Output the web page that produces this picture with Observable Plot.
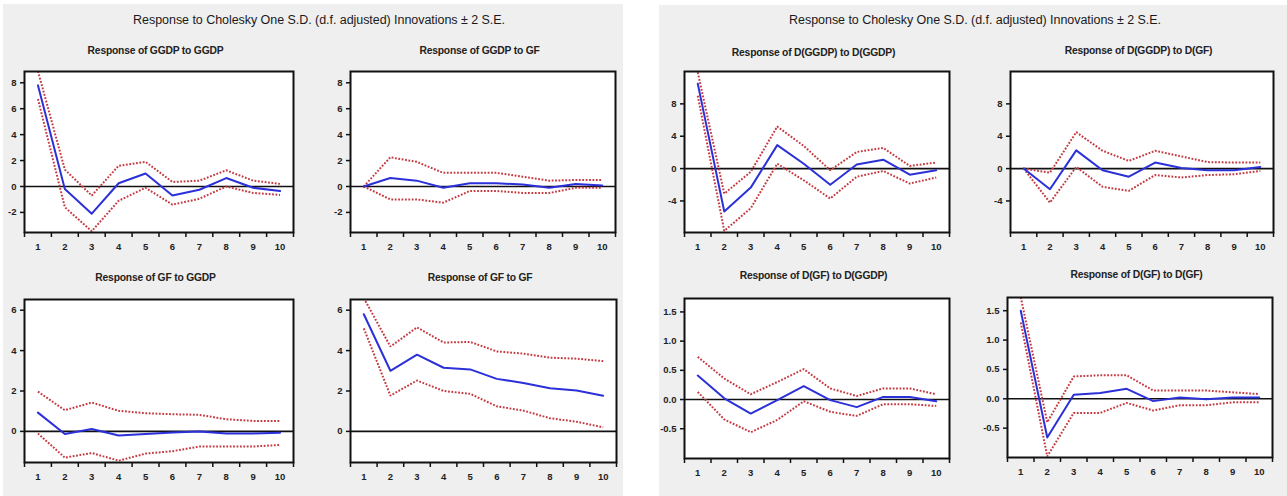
<!DOCTYPE html>
<html>
<head>
<meta charset="utf-8">
<script src="https://cdn.jsdelivr.net/npm/d3@7"></script>
<script src="https://cdn.jsdelivr.net/npm/@observablehq/plot@0.6"></script>
<style>
  html, body { margin: 0; padding: 0; background: #fff; }
  body { width: 1287px; height: 496px; position: relative; overflow: hidden; font-family: "Liberation Sans", Arial, sans-serif; }
  .fig { position: absolute; background: #efefef; overflow: hidden; }
  .txt { position: absolute; transform: translate(-50%, -50%); white-space: nowrap; color: #1a1a1a; }
  .main { font-size: 12.5px; letter-spacing: -0.05px; }
  .sub { font-size: 10.3px; font-weight: bold; letter-spacing: -0.2px; color: #222; }
  .pl { position: absolute; }
</style>
</head>
<body>
<div id="figL" class="fig" style="left:3px; top:4px; width:620px; height:492px;"></div>
<div id="figR" class="fig" style="left:659px; top:5px; width:628px; height:491px;"></div>
<script>
// ---------- data ----------
const periods = [1, 2, 3, 4, 5, 6, 7, 8, 9, 10];
const periodLabels = ["1", "2", "3", "4", "5", "6", "7", "8", "9", "10"];

const mainTitle = "Response to Cholesky One S.D. (d.f. adjusted) Innovations \u00b1 2 S.E.";

// Left figure: levels
const ggdpToGgdp      = [7.8, -0.2, -2.1, 0.25, 1.0, -0.7, -0.25, 0.65, -0.1, -0.35];
const ggdpToGgdpUpper = [8.9, 1.3, -0.7, 1.6, 1.9, 0.35, 0.45, 1.25, 0.45, 0.2];
const ggdpToGgdpLower = [6.75, -1.6, -3.45, -1.1, -0.1, -1.4, -0.95, 0.0, -0.5, -0.65];

const ggdpToGf      = [0, 0.65, 0.45, -0.1, 0.25, 0.25, 0.15, -0.1, 0.2, 0.08];
const ggdpToGfUpper = [0, 2.25, 1.9, 1.05, 1.05, 1.05, 0.75, 0.45, 0.5, 0.5];
const ggdpToGfLower = [0, -1.0, -1.0, -1.25, -0.35, -0.35, -0.5, -0.5, -0.1, -0.1];

const gfToGgdp      = [0.93, -0.13, 0.12, -0.2, -0.13, -0.05, 0.0, -0.1, -0.1, -0.07];
const gfToGgdpUpper = [1.97, 1.05, 1.43, 1.02, 0.9, 0.85, 0.82, 0.6, 0.52, 0.52];
const gfToGgdpLower = [-0.1, -1.3, -1.07, -1.45, -1.1, -0.98, -0.75, -0.75, -0.75, -0.67];

const gfToGf      = [5.8, 3.0, 3.8, 3.15, 3.07, 2.6, 2.4, 2.14, 2.02, 1.77];
const gfToGfUpper = [6.6, 4.2, 5.15, 4.4, 4.43, 3.96, 3.85, 3.65, 3.6, 3.48];
const gfToGfLower = [5.1, 1.77, 2.52, 2.0, 1.86, 1.24, 1.03, 0.65, 0.48, 0.2];

// Right figure: first differences
const dGgdpToDGgdp      = [10.5, -5.3, -2.35, 2.9, 0.6, -2.0, 0.5, 1.1, -0.75, -0.2];
const dGgdpToDGgdpUpper = [11.9, -3.1, -0.4, 5.2, 2.8, -0.2, 2.05, 2.55, 0.33, 0.75];
const dGgdpToDGgdpLower = [9.0, -7.7, -4.9, 0.6, -1.45, -3.7, -1.0, -0.3, -1.85, -1.1];

const dGgdpToDGf      = [0, -2.55, 2.25, -0.2, -1.0, 0.75, 0.08, -0.2, -0.2, 0.2];
const dGgdpToDGfUpper = [0, -0.5, 4.5, 2.2, 0.95, 2.2, 1.5, 0.8, 0.75, 0.75];
const dGgdpToDGfLower = [0, -4.2, 0.2, -2.25, -2.75, -0.8, -1.1, -0.8, -0.7, -0.3];

const dGfToDGgdp      = [0.41, 0.02, -0.24, -0.01, 0.23, -0.01, -0.13, 0.045, 0.045, -0.03];
const dGfToDGgdpUpper = [0.73, 0.36, 0.09, 0.3, 0.52, 0.19, 0.06, 0.19, 0.19, 0.09];
const dGfToDGgdpLower = [0.13, -0.34, -0.56, -0.35, -0.03, -0.21, -0.28, -0.08, -0.08, -0.11];

const dGfToDGf      = [1.5, -0.66, 0.07, 0.1, 0.17, -0.04, 0.02, -0.01, 0.02, 0.02];
const dGfToDGfUpper = [1.73, -0.4, 0.38, 0.4, 0.4, 0.14, 0.14, 0.14, 0.11, 0.08];
const dGfToDGfLower = [1.3, -0.98, -0.24, -0.24, -0.07, -0.2, -0.11, -0.11, -0.06, -0.06];

// tick values / labels
const levelTopTicks = [-2, 0, 2, 4, 6, 8];
const levelTopLabels = ["-2", "0", "2", "4", "6", "8"];
const levelBottomTicks = [0, 2, 4, 6];
const levelBottomLabels = ["0", "2", "4", "6"];
const diffTopTicks = [-4, 0, 4, 8];
const diffTopLabels = ["-4", "0", "4", "8"];
const diffBottomTicks = [-0.5, 0, 0.5, 1, 1.5];
const diffBottomLabels = ["-0.5", "0.0", "0.5", "1.0", "1.5"];

// ---------- layout (page coordinates of each plot frame) ----------
const figs = {
  L: {el: document.getElementById("figL"), left: 3, top: 4, titleX: 319, titleY: 20},
  R: {el: document.getElementById("figR"), left: 659, top: 5, titleX: 975, titleY: 20}
};

const panels = [
  {fig: "L", title: "Response of GGDP to GGDP", titleY: 50, frame: [24, 71, 293, 232], domain: [-3.55, 8.87],
   ticks: levelTopTicks, labels: levelTopLabels, irf: ggdpToGgdp, up: ggdpToGgdpUpper, lo: ggdpToGgdpLower},
  {fig: "L", title: "Response of GGDP to GF", titleY: 50, frame: [350, 71, 615, 232], domain: [-3.55, 8.87],
   ticks: levelTopTicks, labels: levelTopLabels, irf: ggdpToGf, up: ggdpToGfUpper, lo: ggdpToGfLower},
  {fig: "L", title: "Response of GF to GGDP", titleY: 277, frame: [24, 299, 293, 462], domain: [-1.54, 6.53],
   ticks: levelBottomTicks, labels: levelBottomLabels, irf: gfToGgdp, up: gfToGgdpUpper, lo: gfToGgdpLower},
  {fig: "L", title: "Response of GF to GF", titleY: 277, frame: [350, 299, 616, 462], domain: [-1.54, 6.53],
   ticks: levelBottomTicks, labels: levelBottomLabels, irf: gfToGf, up: gfToGfUpper, lo: gfToGfLower},
  {fig: "R", title: "Response of D(GGDP) to D(GGDP)", titleY: 52, frame: [684, 71, 949, 232], domain: [-7.9, 12.0],
   ticks: diffTopTicks, labels: diffTopLabels, irf: dGgdpToDGgdp, up: dGgdpToDGgdpUpper, lo: dGgdpToDGgdpLower},
  {fig: "R", title: "Response of D(GGDP) to D(GF)", titleY: 50, frame: [1010, 71, 1273, 232], domain: [-7.9, 12.0],
   ticks: diffTopTicks, labels: diffTopLabels, irf: dGgdpToDGf, up: dGgdpToDGfUpper, lo: dGgdpToDGfLower},
  {fig: "R", title: "Response of D(GF) to D(GGDP)", titleY: 275, frame: [684, 298, 949, 458], domain: [-1.01, 1.73],
   ticks: diffBottomTicks, labels: diffBottomLabels, irf: dGfToDGgdp, up: dGfToDGgdpUpper, lo: dGfToDGgdpLower},
  {fig: "R", title: "Response of D(GF) to D(GF)", titleY: 274, frame: [1007, 297, 1272, 457], domain: [-1.0, 1.725],
   ticks: diffBottomTicks, labels: diffBottomLabels, irf: dGfToDGf, up: dGfToDGfUpper, lo: dGfToDGfLower}
];

const RED = "#c43a40";
const BLUE = "#2b30d8";
const bounds = periods.map(p => p - 0.5).concat([periods[periods.length - 1] + 0.5]);

function addText(fig, cls, text, x, y) {
  const d = document.createElement("div");
  d.className = "txt " + cls;
  d.textContent = text;
  d.style.left = (x - fig.left) + "px";
  d.style.top = (y - fig.top) + "px";
  fig.el.appendChild(d);
}

for (const k of Object.keys(figs)) addText(figs[k], "main", mainTitle, figs[k].titleX, figs[k].titleY);

for (const p of panels) {
  const fig = figs[p.fig];
  const [L, T, R, B] = p.frame;
  const mL = 34, mR = 4, mT = 4, mB = 26;
  const data = periods.map((t, i) => ({t, irf: p.irf[i], up: p.up[i], lo: p.lo[i]}));
  const fmtY = d => p.labels[p.ticks.indexOf(d)];
  const dotted = {stroke: RED, strokeWidth: 2, strokeDasharray: "1.8,1.6", strokeLinecap: "butt", strokeLinejoin: "miter", clip: true};
  const svg = Plot.plot({
    width: R - L + mL + mR,
    height: B - T + mT + mB,
    marginLeft: mL, marginRight: mR, marginTop: mT, marginBottom: mB,
    x: {domain: [0.5, 10.5], label: null},
    y: {domain: p.domain, label: null},
    style: {background: "transparent", overflow: "visible", fontFamily: "'Liberation Sans', Arial, sans-serif", fontSize: "9.5px", fontWeight: "bold"},
    marks: [
      Plot.frame({fill: "white"}),
      Plot.ruleY([0], {stroke: "#111", strokeWidth: 1.6}),
      Plot.line(data, {x: "t", y: "up", ...dotted}),
      Plot.line(data, {x: "t", y: "lo", ...dotted}),
      Plot.line(data, {x: "t", y: "irf", stroke: BLUE, strokeWidth: 2, clip: true}),
      Plot.frame({stroke: "#111", strokeWidth: 2}),
      Plot.axisY({ticks: p.ticks, tickSize: 4, tickPadding: 4, tickFormat: fmtY, label: null, stroke: "#111", strokeWidth: 1.5, fill: "#222", fontWeight: "bold"}),
      Plot.axisX({ticks: bounds, tickSize: 5, tickFormat: () => "", label: null, stroke: "#111", strokeWidth: 1.5}),
      Plot.axisX({ticks: periods, tickSize: 0, tickPadding: 11, tickFormat: d => periodLabels[periods.indexOf(d)], label: null, fill: "#222", fontWeight: "bold"})
    ]
  });
  svg.classList.add("pl");
  svg.style.position = "absolute";
  svg.style.left = (L - mL - fig.left) + "px";
  svg.style.top = (T - mT - fig.top) + "px";
  fig.el.appendChild(svg);
  addText(fig, "sub", p.title, (L + R) / 2 - 3, p.titleY);
}
</script>
</body>
</html>
